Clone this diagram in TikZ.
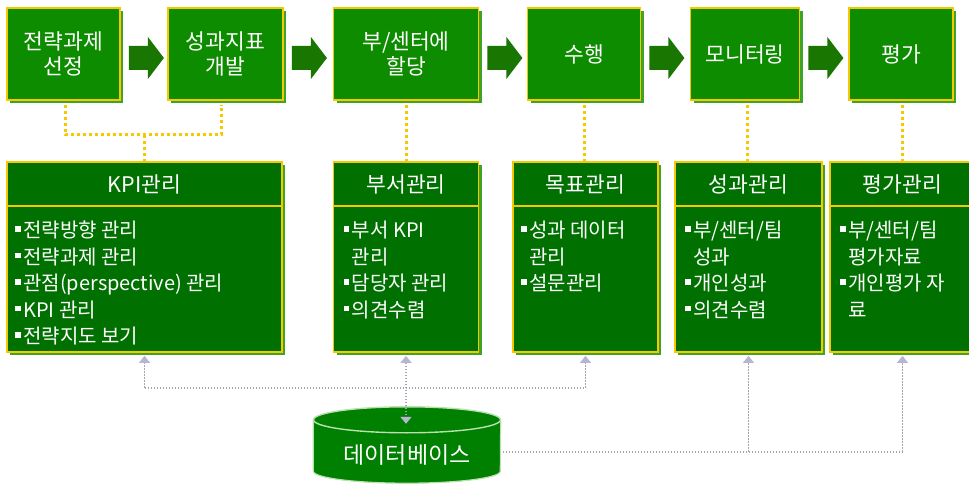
\documentclass[tikz,border=0pt]{standalone}
\usepackage{fontspec}
\setmainfont{Noto Sans CJK KR}
\usetikzlibrary{calc,arrows.meta,shadows}
\definecolor{topgreen}{RGB}{14,140,0}
\definecolor{midgreen}{RGB}{0,112,0}
\definecolor{shadowgreen}{RGB}{60,165,40}
\definecolor{bordery}{RGB}{245,200,0}
\definecolor{arrowgreen}{RGB}{25,118,0}
\definecolor{dbgreen}{RGB}{0,128,0}
\definecolor{dbedge}{RGB}{185,225,175}
\definecolor{conngray}{RGB}{165,165,180}
\definecolor{tipgray}{RGB}{185,180,210}
\newcommand\bul{\rule[0.3em]{0.28em}{0.28em}\hspace{0.12em}}
\newcommand\ind{\hspace{0.4em}}
\newcommand\blockarrow[1]{\fill[arrowgreen] ($(#1.east)+(8,4)$) ++(0,-12) -- ++(19,0) -- ++(0,-9) -- ++(16,21) -- ++(-16,21) -- ++(0,-9) -- ++(-19,0) -- cycle;}
\begin{document}
\begin{tikzpicture}[x=1pt,y=-1pt,
  topbox/.style={draw=bordery, line width=1.8pt, fill=topgreen, text=white, align=center, inner sep=0pt,
    minimum height=92pt, font=\fontsize{21.5}{25}\selectfont,
    drop shadow={shadow xshift=3pt, shadow yshift=-3pt, fill=shadowgreen, opacity=1}},
  midbox/.style={draw=bordery, line width=1.8pt, fill=midgreen, inner sep=0pt, minimum height=190pt,
    drop shadow={shadow xshift=3pt, shadow yshift=-3pt, fill=shadowgreen, opacity=1}},
  hdr/.style={text=white, inner sep=0pt, font=\fontsize{21.5}{21.5}\selectfont},
  items/.style={text=white, inner sep=0pt, align=left, anchor=north west, font=\fontsize{20}{26.5}\selectfont},
  ydot/.style={draw=bordery, line width=3pt, dash pattern=on 3pt off 3pt},
  gconn/.style={draw=conngray, line width=1.6pt, dash pattern=on 1.6pt off 1.4pt},
  gtip/.style={-{Triangle[width=11pt,length=7pt,fill=tipgray,color=tipgray]}},
  gtips/.style={{Triangle[width=11pt,length=7pt,fill=tipgray,color=tipgray]}-{Triangle[width=11pt,length=7pt,fill=tipgray,color=tipgray]}}
]
\useasboundingbox (0,0) rectangle (969,486);
\fill[white] (0,0) rectangle (969,486);

% top process boxes
\node[topbox, minimum width=113pt] (t1) at (63.5,54) {전략과제\\선정};
\node[topbox, minimum width=115pt] (t2) at (225.5,54) {성과지표\\개발};
\node[topbox, minimum width=145pt] (t3) at (406,54) {부/센터에\\할당};
\node[topbox, minimum width=113pt] (t4) at (584,54) {수행};
\node[topbox, minimum width=109pt] (t5) at (745,54) {모니터링};
\node[topbox, minimum width=104pt] (t6) at (901,54) {평가};

\blockarrow{t1}
\blockarrow{t2}
\blockarrow{t3}
\blockarrow{t4}
\blockarrow{t5}

% yellow dotted links
\coordinate (j) at (144.5,135);
\draw[ydot] ($(t1.south)+(2,4)$) |- (j) -| ($(t2.south)+(-4,4)$);
\draw[ydot] (j) -- ($(j |- 0,162)$);
\draw[ydot] ($(t3.south)+(0,4)$) -- (406,162);
\draw[ydot] ($(t4.south)+(0,4)$) -- (584,162);
\draw[ydot] ($(t5.south)+(2,4)$) -- (747,162);
\draw[ydot] ($(t6.south)+(1,4)$) -- (902,162);

% management boxes
\node[midbox, minimum width=275pt] (m1) at (144.5,257) {};
\node[midbox, minimum width=145pt] (m2) at (406,257) {};
\node[midbox, minimum width=145pt] (m3) at (585.5,257) {};
\node[midbox, minimum width=147pt] (m4) at (748.5,257) {};
\node[midbox, minimum width=145pt] (m5) at (902.5,257) {};

\foreach \m in {m1,m2,m3,m4,m5}{
  \draw[bordery, line width=1.8pt] ($(\m.north west)+(0,45)$) -- ($(\m.north east)+(0,45)$);
}

\node[hdr] (h1) at ($(m1.north)+(0,23)$) {KPI관리};
\node[hdr] (h2) at ($(m2.north)+(0,23)$) {부서관리};
\node[hdr] (h3) at ($(m3.north)+(0,23)$) {목표관리};
\node[hdr] (h4) at ($(m4.north)+(0,23)$) {성과관리};
\node[hdr] (h5) at ($(m5.north)+(0,23)$) {평가관리};

\node[items] (i1) at ($(m1.north west)+(9,60)$) {\bul 전략방향 관리\\\bul 전략과제 관리\\\bul 관점(perspective) 관리\\\bul KPI 관리\\\bul 전략지도 보기};
\node[items] (i2) at ($(m2.north west)+(11,60)$) {\bul 부서 KPI\\\ind 관리\\\bul 담당자 관리\\\bul 의견수렴};
\node[items] (i3) at ($(m3.north west)+(9,60)$) {\bul 성과 데이터\\\ind 관리\\\bul 설문관리};
\node[items] (i4) at ($(m4.north west)+(11,60)$) {\bul 부/센터/팀\\\ind 성과\\\bul 개인성과\\\bul 의견수렴};
\node[items] (i5) at ($(m5.north west)+(11,60)$) {\bul 부/센터/팀\\\ind 평가자료\\\bul 개인평가 자\\\ind 료};

% database
\node[minimum width=187pt, minimum height=76pt, inner sep=0pt] (db) at (407,445) {};
\path[fill=dbgreen, draw=dbedge, line width=1.2pt] ($(db.north west)+(0,13)$) -- ($(db.south west)+(0,-12)$)
   arc[start angle=180, end angle=0, x radius=93.5, y radius=12] -- ($(db.north east)+(0,13)$);
\draw[fill=dbgreen, draw=dbedge, line width=1.4pt] ($(db.north)+(0,13)$) ellipse [x radius=93.5, y radius=13];
\node[text=white, inner sep=0pt, font=\fontsize{23}{23}\selectfont] (dbt) at ($(db.center)+(0,10)$) {데이터베이스};

% gray data links
\coordinate (jl) at (144.5,388);
\draw[gconn] (jl) -- (jl -| m3.south);
\draw[gconn, gtip] (jl) -- ($(m1.south)+(0,3)$);
\draw[gconn, gtip] (jl -| m3.south) -- ($(m3.south)+(0,3)$);
\draw[gconn, gtips] ($(m2.south)+(0,3)$) -- ($(m2.south |- db.north)+(0,17)$);
\coordinate (jr) at ($(db.east)+(2,7)$);
\draw[gconn] (jr) -- (jr -| m5.south);
\draw[gconn, gtip] (jr -| m4.south) -- ($(m4.south)+(0,3)$);
\draw[gconn, gtip] (jr -| m5.south) -- ($(m5.south)+(0,3)$);
\end{tikzpicture}
\end{document}
